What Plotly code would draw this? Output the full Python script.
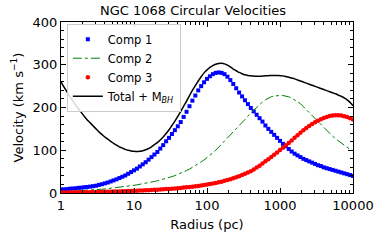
import numpy as np
import plotly.graph_objects as go

# radius grid (pc), log-spaced sampling from 1 to 10000
radius = np.logspace(0, 4, 101)

comp1 = [8, 8.5, 9, 10, 10.5, 11, 12, 12.5, 13.5, 14,
         15, 16, 17, 19, 20.5, 22.5, 24.5, 27, 29.5, 32,
         35, 38, 41, 45, 49, 53, 57, 62, 67, 72,
         78, 84, 90, 96, 104, 112, 121, 129, 138, 147,
         156, 166, 178, 190, 203, 216, 228, 240, 250, 259,
         267, 273, 278, 281, 282, 281, 278, 272, 264, 255,
         245, 235, 226, 217, 208, 199, 191, 183, 175, 167,
         158, 150, 143, 136, 129, 122, 115, 109, 103, 97,
         92, 88, 84, 80, 77, 74, 71, 68, 65, 63,
         60, 58, 56, 54, 52, 50, 48, 46, 44, 42, 40]

comp2 = [3.0, 3.3, 3.6, 3.9, 4.2, 4.6, 5.0, 5.4, 5.8, 6.2,
         6.7, 7.2, 7.7, 8.3, 8.9, 9.5, 10.2, 10.9, 11.7, 12.5,
         13.3, 14.2, 15.1, 16.0, 17.0, 18.0, 19.1, 20.2, 21.4, 22.7,
         24.0, 25.5, 27.0, 28.6, 30.3, 32.1, 34.0, 36.1, 38.3, 40.7,
         43.3, 46.1, 49.2, 52.5, 56.0, 59.8, 63.8, 68.1, 72.6, 77.4,
         82.5, 88, 94, 100, 107, 114, 121, 128, 135, 142,
         149, 157, 164, 172, 180, 187, 194, 201, 207, 213,
         218, 222, 225, 227, 228, 228, 228, 227, 225, 222,
         218, 214, 209, 202, 195, 188, 181, 174, 166, 159,
         152, 145, 139, 133, 127, 122, 116, 111, 107, 102, 99]

comp3 = [1.0, 1.1, 1.2, 1.3, 1.4, 1.5, 1.6, 1.7, 1.8, 1.9,
         2.0, 2.2, 2.3, 2.5, 2.6, 2.8, 3.0, 3.2, 3.4, 3.6,
         3.8, 4.0, 4.3, 4.5, 4.8, 5.1, 5.4, 5.7, 6.0, 6.3,
         6.7, 7.0, 7.4, 7.8, 8.2, 8.7, 9.1, 9.6, 10.1, 10.7,
         11.3, 11.9, 12.6, 13.3, 14.0, 14.8, 15.6, 16.5, 17.5, 18.5,
         19.6, 20.8, 22.1, 23.5, 25.0, 26.6, 28.4, 30.3, 32.3, 34.5,
         36.8, 39.3, 42.0, 44.9, 48.0, 51, 55, 59.5, 64, 69,
         74, 79, 84, 89.5, 95, 100.5, 106, 111.5, 117, 123,
         129, 135, 141, 146.5, 152, 157, 161.5, 165.5, 169, 172.5,
         175.5, 178, 180, 181.5, 182, 182, 181, 179.5, 177.5, 175, 172]

total = [260, 248, 237, 226, 216, 206, 197, 188, 179, 171,
         164, 157, 150, 143, 137, 131, 126, 121, 116, 112,
         108, 105, 102, 100, 98.5, 97.5, 97, 97.5, 99, 101,
         104, 108, 113, 118, 124, 131, 139, 148, 158, 168,
         179, 191, 203, 215, 228, 240, 251, 262, 272, 281,
         288, 294, 298, 301, 303, 303.5, 302, 299, 295, 290,
         286, 282, 279, 276.5, 275, 274, 273.5, 273, 273, 273.5,
         274, 274.5, 275, 275, 275, 274.5, 274, 272.5, 271, 269,
         267, 264.5, 262, 259.5, 257, 254.5, 252, 249.5, 247, 244.5,
         242, 239.5, 237, 234.5, 232, 229, 226, 222.5, 218, 212, 204]

x_tickvals = [1, 10, 100, 1000, 10000]
x_ticktext = ["1", "10", "100", "1000", "10000"]

FONT = "DejaVu Sans"

fig = go.Figure()
fig.add_trace(go.Scatter(x=radius, y=comp1, mode="markers", name="Comp 1",
                         marker=dict(symbol="square", size=4, color="#0000ff",
                                     line=dict(width=0))))
fig.add_trace(go.Scatter(x=radius, y=comp2, mode="lines", name="Comp 2",
                         line=dict(color="#008000", width=1, dash="dashdot")))
fig.add_trace(go.Scatter(x=radius, y=comp3, mode="markers", name="Comp 3",
                         marker=dict(symbol="circle", size=4.5, color="#ff0000",
                                     line=dict(width=0))))
fig.add_trace(go.Scatter(x=radius, y=total, mode="lines", name="Total + M<sub><i>BH</i></sub>",
                         line=dict(color="black", width=1.5, shape="spline")))

axis_common = dict(showline=True, linecolor="black", linewidth=1, mirror="ticks",
                   ticks="inside", tickcolor="black", ticklen=5, tickwidth=1,
                   showgrid=False, zeroline=False,
                   tickfont=dict(family=FONT, size=13, color="black"))

fig.update_xaxes(type="log", range=[0, 4], tickvals=x_tickvals, ticktext=x_ticktext,
                 minor=dict(ticks="inside", ticklen=3, tickcolor="black", dtick="D1", showgrid=False),
                 title=dict(text="Radius (pc)", font=dict(family=FONT, size=13, color="black"), standoff=8),
                 **axis_common)
fig.update_yaxes(range=[0, 400], dtick=100,
                 minor=dict(ticks="inside", ticklen=3, tickcolor="black", dtick=20, showgrid=False),
                 title=dict(text="Velocity (km s<sup>−1</sup>)", font=dict(family=FONT, size=13, color="black"), standoff=6),
                 **axis_common)

fig.update_layout(
    width=386, height=242,
    margin=dict(l=61, r=27, t=22, b=46),
    paper_bgcolor="white", plot_bgcolor="white",
    title=dict(text="NGC 1068 Circular Velocities", x=0.5, xanchor="center",
               y=0.955, yanchor="middle", font=dict(family=FONT, size=13, color="black")),
    legend=dict(x=0.02, y=0.99, xanchor="left", yanchor="top",
                bgcolor="rgba(255,255,255,0.85)", bordercolor="#cccccc", borderwidth=1,
                font=dict(family=FONT, size=11.5, color="black"),
                itemwidth=30, tracegroupgap=0),
    showlegend=True,
)

fig.write_html("out.html", config={"displayModeBar": False},
               post_script="document.body.style.margin='0';document.body.style.overflow='hidden';")
